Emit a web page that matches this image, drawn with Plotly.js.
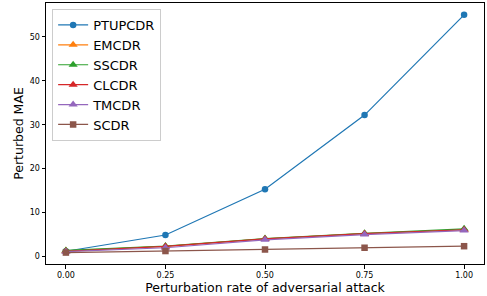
<!DOCTYPE html>
<html><head><meta charset="utf-8">
<script src="https://cdn.plot.ly/plotly-3.0.1.min.js"></script>
<style>html,body{margin:0;padding:0;background:#fff}#c{width:487px;height:296px}</style>
</head><body><div id="c"></div>
<script>
const rates = [0.00, 0.25, 0.50, 0.75, 1.00];
const seriesNames = ["PTUPCDR", "EMCDR", "SSCDR", "CLCDR", "TMCDR", "SCDR"];
const PTUPCDR = [1.2, 4.9, 15.3, 32.2, 55.0];
const EMCDR   = [1.3, 2.3, 4.0, 5.2, 6.1];
const SSCDR   = [1.4, 2.4, 4.1, 5.3, 6.3];
const CLCDR   = [1.2, 2.3, 4.0, 5.2, 6.1];
const TMCDR   = [1.1, 2.0, 3.8, 5.0, 5.9];
const SCDR    = [0.9, 1.25, 1.6, 2.0, 2.35];
const xTicks = [0, 0.25, 0.5, 0.75, 1.0];
const xTickText = ["0.00", "0.25", "0.50", "0.75", "1.00"];
const yTicks = [0, 10, 20, 30, 40, 50];

const values = [PTUPCDR, EMCDR, SSCDR, CLCDR, TMCDR, SCDR];
const colors = ["#1f77b4", "#ff7f0e", "#2ca02c", "#d62728", "#9467bd", "#8c564b"];
const symbols = ["circle", "triangle-up", "triangle-up", "triangle-up", "triangle-up", "square"];
const sizes = [6.5, 8, 8, 8, 8, 6.5];

const traces = seriesNames.map((n, i) => ({
  x: rates, y: values[i], name: n, type: "scatter", mode: "lines+markers",
  line: {color: colors[i], width: 1.2},
  marker: {color: colors[i], symbol: symbols[i], size: sizes[i]}
}));

const layout = {
  width: 487, height: 296,
  margin: {l: 46, r: 3, t: 3, b: 32},
  paper_bgcolor: "#fff", plot_bgcolor: "#fff",
  font: {family: "DejaVu Sans", color: "#000"},
  showlegend: true,
  legend: {x: 0.014, y: 0.977, xanchor: "left", yanchor: "top",
    bgcolor: "rgba(255,255,255,0.8)", bordercolor: "#cccccc", borderwidth: 1,
    font: {size: 13, family: "DejaVu Sans"}, tracegroupgap: 0},
  xaxis: {range: [-0.05, 1.05], tickvals: xTicks, ticktext: xTickText,
    showgrid: false, zeroline: false, showline: true, mirror: true,
    linecolor: "#000", linewidth: 1, ticks: "outside", ticklen: 3.5, tickcolor: "#000",
    tickfont: {size: 8},
    title: {text: "Perturbation rate of adversarial attack", font: {size: 12.5}, standoff: 3}},
  yaxis: {range: [-1.7, 57.7], tickvals: yTicks,
    showgrid: false, zeroline: false, showline: true, mirror: true,
    linecolor: "#000", linewidth: 1, ticks: "outside", ticklen: 3.5, tickcolor: "#000",
    tickfont: {size: 8},
    title: {text: "Perturbed MAE", font: {size: 12.5}, standoff: 3}}
};
Plotly.newPlot("c", traces, layout, {displayModeBar: false, staticPlot: true});
</script></body></html>
